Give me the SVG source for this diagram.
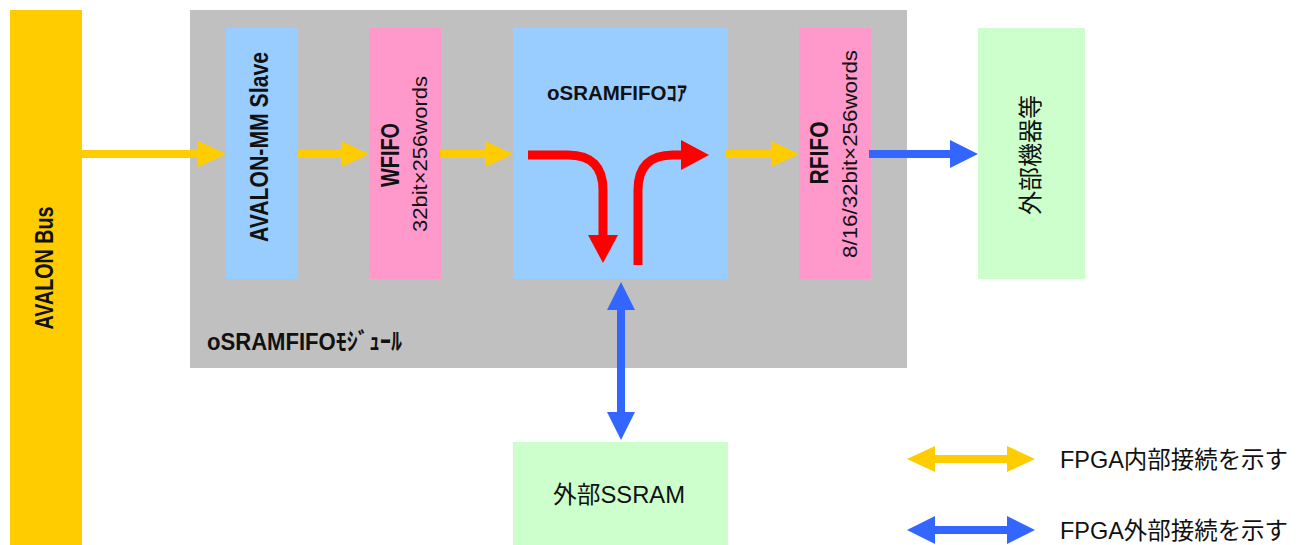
<svg xmlns="http://www.w3.org/2000/svg" width="1308" height="545" viewBox="0 0 1308 545">
<style>
.t{font-family:"Liberation Sans","Noto Sans CJK JP",sans-serif;fill:#111;}
.b{font-weight:bold;}
.y{stroke:#FFCC00;stroke-width:8;fill:none;}
.bl{stroke:#3366FF;stroke-width:8;fill:none;}
.r{stroke:#FF0000;stroke-width:9;fill:none;}
</style>
<defs>
<marker id="hy" markerUnits="userSpaceOnUse" markerWidth="28" markerHeight="26" refX="0" refY="13" orient="auto-start-reverse"><path d="M0,0 L28,13 L0,26 z" fill="#FFCC00"/></marker>
<marker id="hb" markerUnits="userSpaceOnUse" markerWidth="28" markerHeight="28" refX="0" refY="14" orient="auto-start-reverse"><path d="M0,0 L28,14 L0,28 z" fill="#3366FF"/></marker>
<marker id="hr" markerUnits="userSpaceOnUse" markerWidth="28" markerHeight="30" refX="0" refY="15" orient="auto"><path d="M0,0 L28,15 L0,30 z" fill="#FF0000"/></marker>
</defs>
<rect width="1308" height="545" fill="#fff"/>

<g id="avalon-bus">
<rect x="10" y="10" width="72" height="540" fill="#FFCC00"/>
<text class="t b" font-size="25" text-anchor="middle" dominant-baseline="central" textLength="123" lengthAdjust="spacingAndGlyphs" transform="translate(44,268) rotate(-90)">AVALON Bus</text>
</g>

<g id="module">
<rect x="190" y="10" width="717" height="358" fill="#C0C0C0"/>
<text class="t b" x="207" y="350" font-size="24" textLength="195" lengthAdjust="spacingAndGlyphs">oSRAMFIFOﾓｼﾞｭｰﾙ</text>
</g>

<g id="slave">
<rect x="226" y="28" width="72" height="251" fill="#99CCFF"/>
<text class="t b" font-size="25" text-anchor="middle" dominant-baseline="central" textLength="190" lengthAdjust="spacingAndGlyphs" transform="translate(259,147) rotate(-90)">AVALON-MM Slave</text>
</g>

<g id="wfifo">
<rect x="369" y="28" width="72" height="251" fill="#FF99CC"/>
<text class="t b" font-size="26" text-anchor="middle" dominant-baseline="central" textLength="64" lengthAdjust="spacingAndGlyphs" transform="translate(390,155) rotate(-90)">WFIFO</text>
<text class="t" font-size="21" text-anchor="middle" dominant-baseline="central" textLength="156" lengthAdjust="spacingAndGlyphs" transform="translate(419,154) rotate(-90)">32bit×256words</text>
</g>

<g id="core">
<rect x="513" y="28" width="215" height="251" fill="#99CCFF"/>
<text class="t b" x="617" y="100" font-size="21" text-anchor="middle" textLength="140" lengthAdjust="spacingAndGlyphs">oSRAMFIFOｺｱ</text>
</g>

<g id="rfifo">
<rect x="799" y="28" width="72" height="251" fill="#FF99CC"/>
<text class="t b" font-size="25" text-anchor="middle" dominant-baseline="central" textLength="63" lengthAdjust="spacingAndGlyphs" transform="translate(819,153) rotate(-90)">RFIFO</text>
<text class="t" font-size="21" text-anchor="middle" dominant-baseline="central" textLength="208" lengthAdjust="spacingAndGlyphs" transform="translate(849,154) rotate(-90)">8/16/32bit×256words</text>
</g>

<g id="external-device">
<rect x="978" y="28" width="107" height="251" fill="#CCFFCC"/>
<text class="t" font-size="24" text-anchor="middle" dominant-baseline="central" textLength="120" lengthAdjust="spacingAndGlyphs" transform="translate(1030,155) rotate(-90)">外部機器等</text>
</g>

<g id="ssram">
<rect x="513" y="442" width="215" height="110" fill="#CCFFCC"/>
<text class="t" x="619" y="503" font-size="24" text-anchor="middle" textLength="132" lengthAdjust="spacingAndGlyphs">外部SSRAM</text>
</g>

<g id="connectors">
<line class="y" x1="82" y1="154" x2="198" y2="154" marker-end="url(#hy)"/>
<line class="y" x1="297" y1="154" x2="341" y2="154" marker-end="url(#hy)"/>
<line class="y" x1="440" y1="154" x2="485" y2="154" marker-end="url(#hy)"/>
<line class="y" x1="726" y1="154" x2="771" y2="154" marker-end="url(#hy)"/>
<line class="bl" x1="869" y1="154" x2="950" y2="154" marker-end="url(#hb)"/>
<line class="bl" x1="621" y1="310" x2="621" y2="412" marker-start="url(#hb)" marker-end="url(#hb)"/>
<path class="r" d="M528,155 H568 Q603,155 603,190 V235" marker-end="url(#hr)"/>
<path class="r" d="M638,265 V190 Q638,155 673,155 H681" marker-end="url(#hr)"/>
</g>

<g id="legend">
<line class="y" x1="935" y1="459" x2="1007" y2="459" marker-start="url(#hy)" marker-end="url(#hy)"/>
<text class="t" x="1060" y="468" font-size="24" textLength="228" lengthAdjust="spacingAndGlyphs">FPGA内部接続を示す</text>
<line class="bl" x1="935" y1="530" x2="1007" y2="530" marker-start="url(#hb)" marker-end="url(#hb)"/>
<text class="t" x="1060" y="539" font-size="24" textLength="228" lengthAdjust="spacingAndGlyphs">FPGA外部接続を示す</text>
</g>
</svg>
